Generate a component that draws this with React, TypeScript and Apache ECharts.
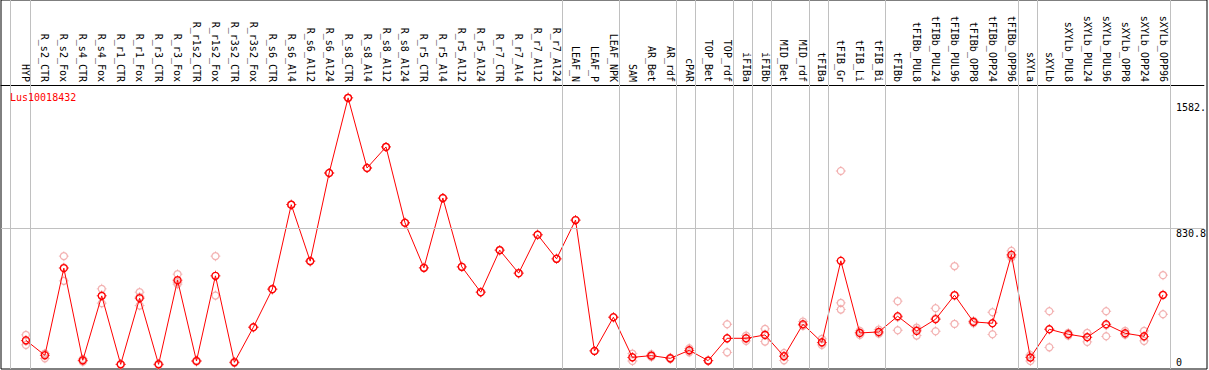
import React, { useEffect, useRef } from "react";
import * as echarts from "echarts";

const categories = [
  "HYP", "R_s2_CTR", "R_s2_Fox", "R_s4_CTR", "R_s4_Fox", "R_r1_CTR", "R_r1_Fox", "R_r3_CTR", "R_r3_Fox",
  "R_r1s2_CTR", "R_r1s2_Fox", "R_r3s2_CTR", "R_r3s2_Fox", "R_s6_CTR", "R_s6_Al4", "R_s6_Al12", "R_s6_Al24",
  "R_s8_CTR", "R_s8_Al4", "R_s8_Al12", "R_s8_Al24", "R_r5_CTR", "R_r5_Al4", "R_r5_Al12", "R_r5_Al24",
  "R_r7_CTR", "R_r7_Al4", "R_r7_Al12", "R_r7_Al24", "LEAF_N", "LEAF_P", "LEAF_NPK", "SAM", "AR_Bet", "AR_rdf",
  "cPAR", "TOP_Bet", "TOP_rdf", "iFIBa", "iFIBb", "MID_Bet", "MID_rdf", "tFIBa", "tFIB_Gr", "tFIB_Li", "tFIB_Bi",
  "tFIBb", "tFIBb_PUL8", "tFIBb_PUL24", "tFIBb_PUL96", "tFIBb_OPP8", "tFIBb_OPP24", "tFIBb_OPP96",
  "sXYLa", "sXYLb", "sXYLb_PUL8", "sXYLb_PUL24", "sXYLb_PUL96", "sXYLb_OPP8", "sXYLb_OPP24", "sXYLb_OPP96",
];

const meanValues = [
  160, 70, 592, 40, 426, 16, 412, 16, 520, 36, 546, 28, 238, 466, 972, 634, 1162, 1612, 1192, 1318, 864, 594,
  1012, 600, 448, 700, 562, 792, 648, 880, 96, 298, 58, 68, 52, 100, 38, 172, 172, 192, 64, 256, 148, 636, 204,
  210, 304, 216, 286, 430, 270, 262, 672, 56, 226, 196, 178, 256, 202, 184, 432,
];

const replicateA = [
  192, 78, 664, 48, 468, 16, 448, 16, 556, 36, 664, 28, 238, 466, 972, 634, 1162, 1612, 1192, 1318, 864, 594,
  1012, 600, 448, 700, 562, 792, 648, 880, 96, 298, 80, 76, 56, 112, 38, 256, 188, 228, 84, 272, 168, 1174, 216,
  224, 394, 236, 352, 604, 276, 328, 696, 72, 334, 204, 204, 334, 216, 216, 550,
];
const replicateB = [
  132, 52, 516, 32, 382, 14, 368, 12, 496, 32, 428, 24, 238, 466, 972, 634, 1162, 1612, 1192, 1318, 864, 594,
  1012, 600, 448, 700, 562, 792, 648, 880, 96, 298, 36, 60, 48, 88, 36, 88, 156, 152, 40, 248, 132, 384, 192,
  200, 220, 188, 214, 258, 262, 196, 656, 36, 118, 188, 150, 184, 196, 156, 316,
];
const replicateC = [
  156, 80, 596, 40, 428, 18, 420, 20, 508, 40, 546, 32, 238, 466, 972, 634, 1162, 1612, 1192, 1318, 864, 594,
  1012, 600, 448, 700, 562, 792, 648, 880, 96, 298, 58, 68, 52, 100, 40, 172, 172, 196, 68, 248, 144, 344, 204,
  206, 298, 224, 292, 428, 272, 262, 664, 60, 226, 196, 180, 250, 194, 180, 430,
];

// group separators: drawn just after these category indices
const groupEnds = [0, 28, 31, 34, 35, 37, 38, 39, 41, 42, 45, 52, 53, 60];
const leadingSeparator = -0.84;

const yTickValues = [830.8, 1582];
const yTickLabels = ["830.8", "1582."];
const yZeroLabel = "0";
const referenceLine = 830.8;
const geneName = "Lus10018432";

const FONT = "'DejaVu Sans Mono', 'Liberation Mono', monospace";
const W = 1209;
const H = 370;
const FIRST_PX = 26;
const STEP_PX = 19;
const BOX_L = 1;
const BOX_R = 1207;
const BOX_B = 369;
const HEADER_Y = 85;
const ZERO_Y = 367;
const Y_MAX = 1689;
const SEP_OFFSET = 0.23;

const TICKS = "path://M9.2 0H10.8V3H9.2ZM9.2 17H10.8V20H9.2ZM0 9.2H3V10.8H0ZM17 9.2H20V10.8H17Z";
const MEAN_RED = "#ff0000";
const REP_PINK = "#f0a0a0";

export default function App() {
  const ref = useRef<HTMLDivElement>(null);
  useEffect(() => {
    document.body.style.margin = "0";
    const chart = echarts.init(ref.current!, null, { renderer: "svg" });
    const xMin = (BOX_L - FIRST_PX) / STEP_PX;
    const xMax = (BOX_R - FIRST_PX) / STEP_PX;
    const separators = [leadingSeparator, ...groupEnds.map((g) => g + SEP_OFFSET)];
    const repData: number[][] = [];
    [replicateA, replicateB, replicateC].forEach((arr) => arr.forEach((v, i) => repData.push([i, v])));
    const meanData = meanValues.map((v, i) => [i, v]);

    const ring = (color: string) => ({ color: "rgba(0,0,0,0)", borderColor: color, borderWidth: 1.3 });

    const option: any = {
      animation: false,
      title: {
        text: geneName,
        left: 10,
        top: 92,
        padding: 0,
        textStyle: { color: MEAN_RED, fontSize: 10, fontFamily: FONT, fontWeight: "normal" },
      },
      grid: [
        { left: BOX_L, right: W - BOX_R, top: HEADER_Y, bottom: H - ZERO_Y },
        {
          left: BOX_L,
          right: W - BOX_R,
          top: 0,
          bottom: H - BOX_B,
          show: true,
          borderColor: "#000",
          borderWidth: 1,
          backgroundColor: "transparent",
        },
      ],
      xAxis: [
        {
          gridIndex: 0,
          type: "value",
          position: "top",
          min: xMin,
          max: xMax,
          axisLine: { show: true, onZero: false, lineStyle: { color: "#000", width: 1 } },
          axisTick: { show: false },
          splitLine: { show: false },
          axisLabel: {
            customValues: categories.map((_, i) => i),
            formatter: (v: number) => categories[Math.round(v)] ?? "",
            rotate: 90,
            align: "right",
            verticalAlign: "middle",
            margin: 3,
            fontFamily: FONT,
            fontSize: 10,
            color: "#000",
          },
        },
        { gridIndex: 1, type: "value", min: xMin, max: xMax, show: false },
      ],
      yAxis: [
        {
          gridIndex: 0,
          type: "value",
          position: "right",
          min: 0,
          max: Y_MAX,
          axisLine: { show: false },
          axisTick: { show: false },
          splitLine: { show: false },
          axisLabel: {
            customValues: yTickValues,
            formatter: (v: number) => yTickLabels[yTickValues.indexOf(v)] ?? String(v),
            inside: true,
            align: "left",
            verticalAlign: "top",
            margin: 28,
            fontFamily: FONT,
            fontSize: 10,
            color: "#000",
          },
        },
        {
          gridIndex: 0,
          type: "value",
          position: "right",
          min: 0,
          max: Y_MAX,
          axisLine: { show: false },
          axisTick: { show: false },
          splitLine: { show: false },
          axisLabel: {
            customValues: [0],
            formatter: () => yZeroLabel,
            inside: true,
            align: "left",
            verticalAlign: "bottom",
            margin: 28,
            fontFamily: FONT,
            fontSize: 10,
            color: "#000",
          },
        },
        { gridIndex: 1, type: "value", min: 0, max: 1, show: false },
      ],
      series: [
        {
          type: "line",
          xAxisIndex: 1,
          yAxisIndex: 2,
          data: [[xMin, 0]],
          showSymbol: false,
          lineStyle: { opacity: 0 },
          z: 1,
          markLine: {
            silent: true,
            symbol: ["none", "none"],
            label: { show: false },
            lineStyle: { color: "#c0c0c0", width: 1, type: "solid" },
            data: separators.map((v) => ({ xAxis: v })),
          },
        },
        {
          type: "line",
          xAxisIndex: 0,
          yAxisIndex: 0,
          data: [[xMin, 0]],
          showSymbol: false,
          lineStyle: { opacity: 0 },
          z: 1,
          markLine: {
            silent: true,
            symbol: ["none", "none"],
            label: { show: false },
            lineStyle: { color: "#c0c0c0", width: 1, type: "solid" },
            data: [{ yAxis: referenceLine }],
          },
        },
        {
          type: "scatter",
          xAxisIndex: 0,
          yAxisIndex: 0,
          data: repData,
          symbol: "circle",
          symbolSize: 7,
          itemStyle: ring(REP_PINK),
          z: 2,
        },
        {
          type: "scatter",
          xAxisIndex: 0,
          yAxisIndex: 0,
          data: repData,
          symbol: TICKS,
          symbolSize: 10,
          itemStyle: { color: REP_PINK },
          z: 2,
        },
        {
          type: "line",
          xAxisIndex: 0,
          yAxisIndex: 0,
          data: meanData,
          symbol: "circle",
          symbolSize: 7,
          showAllSymbol: true,
          itemStyle: ring(MEAN_RED),
          lineStyle: { color: MEAN_RED, width: 1 },
          z: 3,
        },
        {
          type: "scatter",
          xAxisIndex: 0,
          yAxisIndex: 0,
          data: meanData,
          symbol: TICKS,
          symbolSize: 10,
          itemStyle: { color: MEAN_RED },
          z: 3,
        },
      ],
    };
    chart.setOption(option);
    return () => chart.dispose();
  }, []);
  return <div ref={ref} style={{ position: "absolute", left: 0, top: 0, width: W, height: H }} />;
}
